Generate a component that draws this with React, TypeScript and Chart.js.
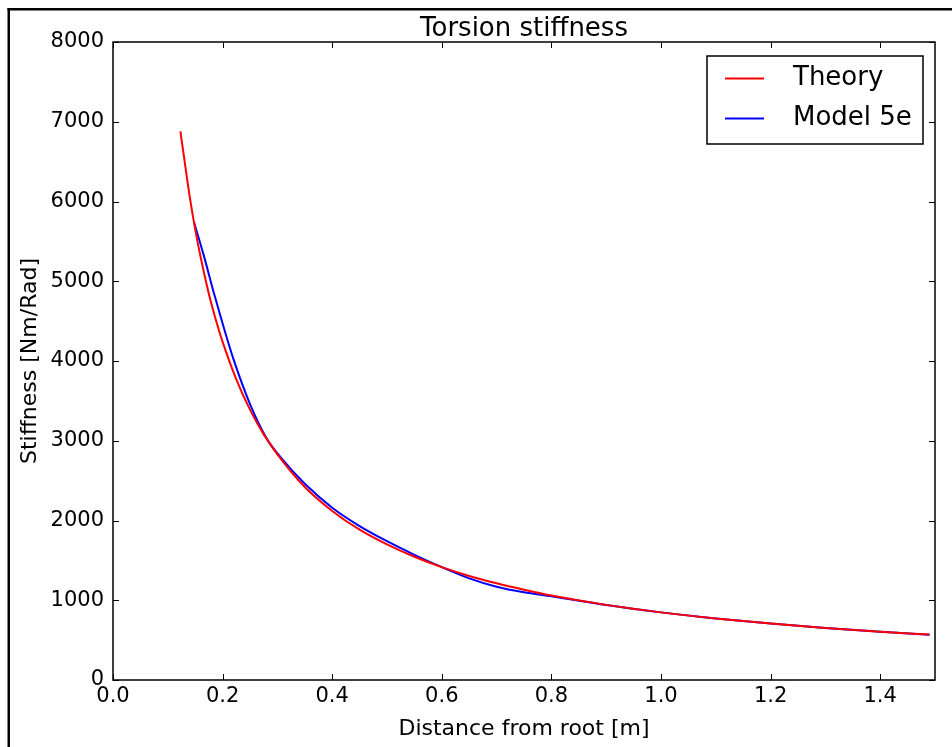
import React, { useEffect, useRef } from "react";
import { Chart, registerables } from "chart.js";

Chart.register(...registerables);

// ---- data ----
const theoryX = [0.123, 0.14, 0.15, 0.16, 0.175, 0.19, 0.2, 0.225, 0.25, 0.275, 0.3, 0.35, 0.4, 0.45, 0.5, 0.55, 0.6, 0.65, 0.7, 0.75, 0.8, 0.9, 1.0, 1.1, 1.2, 1.3, 1.4, 1.49];
const theoryY = [6880, 6060, 5650, 5300, 4840, 4460, 4240, 3770, 3390, 3080, 2830, 2420, 2120, 1885, 1700, 1545, 1415, 1305, 1212, 1132, 1060, 942, 848, 771, 707, 652, 606, 569];
const modelX = [0.148, 0.165, 0.185, 0.2, 0.22, 0.25, 0.28, 0.31, 0.35, 0.4, 0.45, 0.5, 0.55, 0.6, 0.65, 0.7, 0.75, 0.8, 0.9, 1.0, 1.1, 1.2, 1.3, 1.4, 1.49];
const modelY = [5737, 5340, 4830, 4470, 4020, 3460, 3035, 2760, 2460, 2160, 1930, 1740, 1570, 1415, 1275, 1170, 1100, 1050, 940, 848, 771, 707, 652, 606, 567];
const xTicks = [0, 0.2, 0.4, 0.6, 0.8, 1.0, 1.2, 1.4];
const yTicks = [0, 1000, 2000, 3000, 4000, 5000, 6000, 7000, 8000];
const seriesLabels = ["Theory", "Model 5e"];
const seriesColors = ["#ff0000", "#0000ff"];
const titleText = "Torsion stiffness";
const xTitle = "Distance from root [m]";
const yTitle = "Stiffness [Nm/Rad]";

const FONT = "'DejaVu Sans', sans-serif";

const framePlugin = {
  id: "mplFrame",
  afterDraw(chart: any) {
    const { ctx, chartArea: a, scales } = chart;
    const xs = scales.x;
    const ys = scales.y;
    ctx.save();
    // figure border (top & left visible)
    ctx.fillStyle = "#000";
    ctx.fillRect(7.5, 8, 2.5, 747);
    ctx.fillRect(7.5, 8, 952, 2.5);
    // axes frame
    ctx.strokeStyle = "#000";
    ctx.lineWidth = 1.5;
    ctx.strokeRect(a.left, a.top, a.right - a.left, a.bottom - a.top);
    // inward ticks
    ctx.lineWidth = 1;
    const tl = 6;
    ctx.beginPath();
    xTicks.forEach((v) => {
      const p = Math.round(xs.getPixelForValue(v)) + 0.5;
      ctx.moveTo(p, a.bottom);
      ctx.lineTo(p, a.bottom - tl);
      ctx.moveTo(p, a.top);
      ctx.lineTo(p, a.top + tl);
    });
    yTicks.forEach((v) => {
      const p = Math.round(ys.getPixelForValue(v)) + 0.5;
      ctx.moveTo(a.left, p);
      ctx.lineTo(a.left + tl, p);
      ctx.moveTo(a.right, p);
      ctx.lineTo(a.right - tl, p);
    });
    ctx.stroke();
    // title
    ctx.fillStyle = "#000";
    ctx.font = `26px ${FONT}`;
    ctx.textAlign = "center";
    ctx.textBaseline = "alphabetic";
    ctx.fillText(titleText, (a.left + a.right) / 2, 36);
    // legend
    const bw = 216;
    const bh = 88;
    const bx = a.right - 12 - bw;
    const by = a.top + 14;
    ctx.fillStyle = "#fff";
    ctx.fillRect(bx, by, bw, bh);
    ctx.strokeStyle = "#000";
    ctx.lineWidth = 1.5;
    ctx.strokeRect(bx, by, bw, bh);
    chart.data.datasets.forEach((ds: any, i: number) => {
      const cy = by + 22.5 + i * 40;
      ctx.strokeStyle = ds.borderColor;
      ctx.lineWidth = 2;
      ctx.beginPath();
      ctx.moveTo(bx + 18, cy);
      ctx.lineTo(bx + 57, cy);
      ctx.stroke();
      ctx.fillStyle = "#000";
      ctx.font = `26px ${FONT}`;
      ctx.textAlign = "left";
      ctx.textBaseline = "middle";
      ctx.fillText(ds.label, bx + 86, cy);
    });
    ctx.restore();
  },
};

export default function App() {
  const ref = useRef<HTMLCanvasElement | null>(null);
  useEffect(() => {
    if (!ref.current) return;
    const chart = new Chart(ref.current, {
      type: "line",
      data: {
        datasets: [
          {
            label: seriesLabels[0],
            data: theoryX.map((x, i) => ({ x, y: theoryY[i] })),
            borderColor: seriesColors[0],
            backgroundColor: seriesColors[0],
            borderWidth: 2,
            pointRadius: 0,
            fill: false,
            cubicInterpolationMode: "monotone",
          },
          {
            label: seriesLabels[1],
            data: modelX.map((x, i) => ({ x, y: modelY[i] })),
            borderColor: seriesColors[1],
            backgroundColor: seriesColors[1],
            borderWidth: 2,
            pointRadius: 0,
            fill: false,
            cubicInterpolationMode: "monotone",
          },
        ],
      },
      options: {
        animation: false,
        responsive: false,
        maintainAspectRatio: false,
        layout: { padding: { left: 0, right: 17, top: 42, bottom: 0 } },
        plugins: {
          legend: { display: false },
          title: { display: false },
          tooltip: { enabled: false },
        },
        scales: {
          x: {
            type: "linear",
            min: 0,
            max: 1.5,
            grid: { display: false, drawTicks: false },
            border: { display: false },
            afterBuildTicks: (s: any) => {
              s.ticks = xTicks.map((v) => ({ value: v }));
            },
            afterFit: (s: any) => {
              s.height = 67;
            },
            ticks: {
              color: "#000",
              padding: 4,
              maxRotation: 0,
              autoSkip: false,
              font: { family: FONT, size: 21 },
              callback: (v: any) => Number(v).toFixed(1),
            },
            title: {
              display: true,
              text: xTitle,
              color: "#000",
              font: { family: FONT, size: 22 },
              padding: { top: 0, bottom: 5 },
            },
          },
          y: {
            type: "linear",
            min: 0,
            max: 8000,
            grid: { display: false, drawTicks: false },
            border: { display: false },
            afterBuildTicks: (s: any) => {
              s.ticks = yTicks.map((v) => ({ value: v }));
            },
            afterFit: (s: any) => {
              s.width = 113;
            },
            ticks: {
              color: "#000",
              padding: 9,
              autoSkip: false,
              font: { family: FONT, size: 21 },
              callback: (v: any) => String(v),
            },
            title: {
              display: true,
              text: yTitle,
              color: "#000",
              font: { family: FONT, size: 22 },
              padding: { top: 17, bottom: 0 },
            },
          },
        },
      },
      plugins: [framePlugin],
    } as any);
    return () => chart.destroy();
  }, []);
  return (
    <div style={{ position: "absolute", left: 0, top: 0, width: 952, height: 747, background: "#fff" }}>
      <canvas ref={ref} width={952} height={747} style={{ width: 952, height: 747, display: "block" }} />
    </div>
  );
}
